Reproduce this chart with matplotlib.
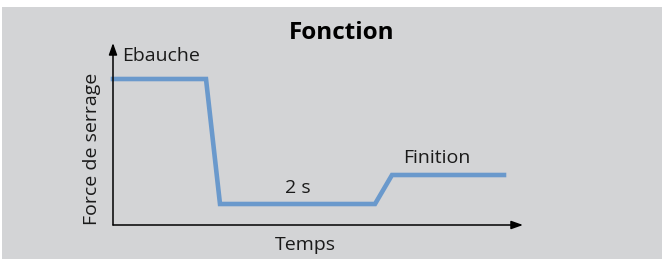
import matplotlib.pyplot as plt
from matplotlib.patches import Rectangle

# Data (arbitrary units)
temps = [0, 9.3, 10.7, 26.2, 27.9, 39.1]
force = [14.6, 14.6, 2.1, 2.1, 5.0, 5.0]

titre = 'Fonction'
label_x = 'Temps'
label_y = 'Force de serrage'

W, H = 662, 259
fig = plt.figure(figsize=(W / 100, H / 100), dpi=100)
fig.patch.set_facecolor('white')
fig.patches.append(Rectangle((2 / W, 0), 1 - 2 / W, 1 - 7 / H, transform=fig.transFigure,
                             facecolor='#d3d4d6', edgecolor='none', zorder=-5))

plt.rcParams['font.family'] = ['Open Sans', 'DejaVu Sans']

x0, y0 = 113, 225
ax = fig.add_axes([x0 / W, (H - y0) / H, 410 / W, 182 / H])
ax.set_xlim(0, 41)
ax.set_ylim(0, 18.2)
ax.axis('off')
ax.set_zorder(2)

# axes with arrows
arrow = dict(arrowstyle='-|>,head_length=0.7,head_width=0.25', color='black', lw=1.1,
             shrinkA=0, shrinkB=0)
ax.annotate('', xy=(41, 0), xytext=(0, 0), arrowprops=arrow, annotation_clip=False)
ax.annotate('', xy=(0, 18.2), xytext=(0, 0), arrowprops=arrow, annotation_clip=False)

ax.plot(temps, force, color='#6a99cc', lw=3.3, solid_joinstyle='miter', clip_on=False)

txt = dict(color='#1a1a1a', fontsize=14)
fig.text(342 / W, 1 - 33 / H, titre, ha='center', va='center', fontsize=17.5,
         fontweight='bold', color='black')
fig.text(122 / W, 1 - 56 / H, 'Ebauche', ha='left', va='center', **txt)
fig.text(298 / W, 1 - 188 / H, '2 s', ha='center', va='center', **txt)
fig.text(437 / W, 1 - 158 / H, 'Finition', ha='center', va='center', **txt)
fig.text(305 / W, 1 - 245 / H, label_x, ha='center', va='center', **txt)
fig.text(92 / W, 1 - 149 / H, label_y, ha='center', va='center', rotation=90, **txt)

fig.savefig('out.png', dpi=100, facecolor=fig.get_facecolor())
